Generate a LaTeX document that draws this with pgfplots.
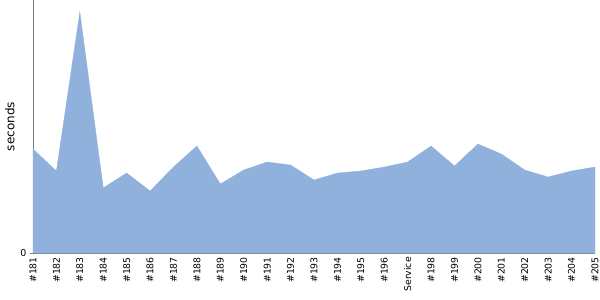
\documentclass[border=0pt]{standalone}
\usepackage{fontspec}
\setmainfont{DejaVu Sans}
\usepackage{pgfplots}
\pgfplotsset{compat=1.18}
\definecolor{areablue}{RGB}{143,177,219}
\definecolor{axisgray}{RGB}{128,128,128}
\begin{document}
\begin{tikzpicture}
\useasboundingbox (0,0) rectangle (600pt,300pt);
\begin{axis}[
  at={(33pt,47pt)}, anchor=south west,
  scale only axis, width=562pt, height=253pt,
  xmin=0, xmax=24, ymin=0, ymax=253,
  axis x line=bottom, axis y line=left,
  axis line style={-, draw=axisgray, line width=0.8pt},
  xtick=data,
  xticklabels={\#181,\#182,\#183,\#184,\#185,\#186,\#187,\#188,\#189,\#190,\#191,\#192,\#193,\#194,\#195,\#196,Service,\#198,\#199,\#200,\#201,\#202,\#203,\#204,\#205},
  xticklabel style={rotate=90, anchor=east, font=\fontsize{9.3}{10}\selectfont, inner sep=1pt},
  x tick style={draw=none},
  ytick={0}, yticklabels={0},
  yticklabel style={font=\fontsize{9.5}{10}\selectfont},
  y tick style={draw=axisgray},
  tick align=outside, major tick length=3pt,
  /pgf/number format/assume math mode=true,
  clip=false,
]
\addplot[fill=areablue, draw=areablue, line width=0.3pt] table {
x y
0 104
1 82
2 241
3 65
4 80
5 62
6 86
7 107
8 69
9 83
10 91
11 88
12 73
13 80
14 82
15 86
16 91
17 107
18 87
19 109
20 99
21 83
22 76
23 82
24 86
} \closedcycle;
\end{axis}
\node[rotate=90, anchor=center, font=\fontsize{12}{14}\selectfont] at (10pt,173.5pt) {seconds};
\end{tikzpicture}
\end{document}
